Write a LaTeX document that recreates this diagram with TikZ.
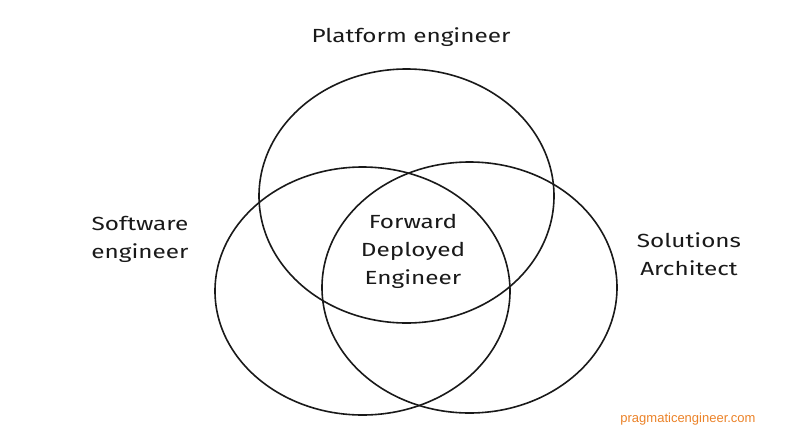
\documentclass[tikz,border=0pt]{standalone}
\usepackage{fontspec}
\setmainfont[FakeStretch=1.28]{Fira Sans}
\newfontfamily\webfont{Liberation Sans}
\usepackage{tikz}
\usetikzlibrary{shapes.geometric,positioning}
\usepackage{xcolor}
\definecolor{cInk}{RGB}{25,25,25}
\definecolor{cOrange}{RGB}{235,130,40}
\tikzset{
  vennring/.style={draw=cInk,line width=1.6pt},
  rolelabel/.style={align=center,text=cInk,font=\fontsize{19}{28}\selectfont,inner sep=0pt},
  weblabel/.style={text=cOrange,font=\webfont\fontsize{13}{15}\selectfont,inner sep=0pt}
}

\begin{document}
\begin{tikzpicture}[x=1pt,y=-1pt]

  \useasboundingbox (0,0) rectangle (801,437);

  % the three roles
  \node[vennring,ellipse,minimum width=295pt,minimum height=254pt] (platform) at (406.5,196) {};
  \node[vennring,ellipse,minimum width=295pt,minimum height=248pt] (software) at (362.5,291) {};
  \node[vennring,ellipse,minimum width=295pt,minimum height=251pt] (solutions) at (469.5,287.5) {};

  \node[rolelabel] (platformlbl) at (411,37) {Platform engineer};
  \node[rolelabel] (softwarelbl) at (140,239) {Software\\engineer};
  \node[rolelabel] (solutionslbl) at (689,254) {Solutions\\Architect};

  % where they overlap
  \node[rolelabel] (fde) at (413,251) {Forward\\Deployed\\Engineer};

  \node[weblabel] (site) at (688,419) {pragmaticengineer.com};

\end{tikzpicture}
\end{document}
